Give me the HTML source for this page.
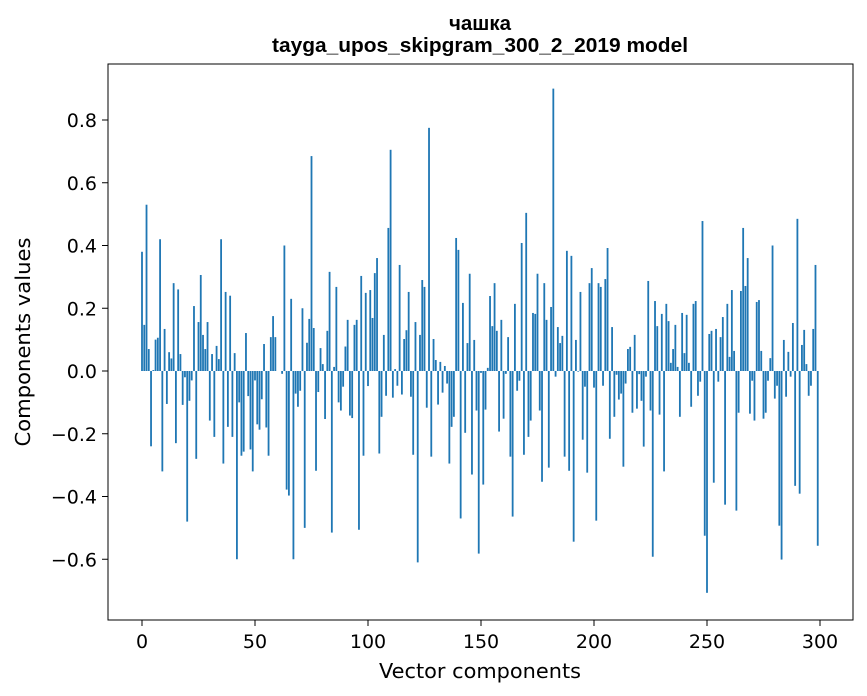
<!DOCTYPE html>
<html><head><meta charset="utf-8"><style>
body{margin:0;background:#fff;}
svg{display:block;font-family:"DejaVu Sans","Liberation Sans",sans-serif;}
.ttl{font-family:"Liberation Sans",sans-serif;font-weight:bold;}
</style></head><body>
<svg id="chart" width="867" height="696">
<text class="ttl" x="480" y="30" text-anchor="middle" font-size="20" textLength="62" lengthAdjust="spacingAndGlyphs">чашка</text>
<text class="ttl" x="480" y="52" text-anchor="middle" font-size="20" textLength="416" lengthAdjust="spacingAndGlyphs">tayga_upos_skipgram_300_2_2019 model</text>
<g id="bars"></g>
<rect x="108" y="64" width="745" height="556" fill="none" stroke="#000" stroke-width="1"/>
<g id="xt"></g>
<g id="yt"></g>
<text x="480" y="678" text-anchor="middle" font-size="20" textLength="202" lengthAdjust="spacingAndGlyphs">Vector components</text>
<text transform="translate(30,342) rotate(-90)" text-anchor="middle" font-size="20" textLength="209" lengthAdjust="spacingAndGlyphs">Components values</text>
</svg>
<script>
const values = [0.38,0.147,0.53,0.07,-0.24,0.003,0.10,0.106,0.42,-0.32,0.134,-0.105,0.06,0.04,0.28,-0.23,0.26,0.054,-0.108,-0.02,-0.48,-0.095,-0.03,0.207,-0.28,0.156,0.306,0.115,0.07,0.156,-0.158,0.054,-0.21,0.08,0.038,0.42,-0.295,0.252,-0.178,0.24,-0.21,0.057,-0.6,-0.1,-0.27,-0.257,0.121,-0.08,-0.25,
-0.32,-0.03,-0.17,-0.187,-0.09,0.086,-0.18,-0.27,0.108,0.175,0.108,0,0,-0.009,0.40,-0.378,-0.397,0.23,-0.6,-0.072,-0.114,-0.063,0.2,-0.5,0.09,0.166,0.685,0.137,-0.318,-0.067,0.073,0.022,-0.153,0.128,0.316,-0.515,0.013,0.268,-0.1,-0.126,-0.05,0.078,0.163,-0.142,-0.15,0.147,0.163,-0.506,0.303,-0.27,0.249,
-0.048,0.258,0.169,0.312,0.36,-0.263,-0.146,0.115,-0.079,0.456,0.705,-0.085,0.006,-0.047,0.338,-0.075,0.102,0.13,0.252,-0.082,-0.267,0.156,-0.61,0.115,0.29,0.268,-0.117,0.775,-0.273,0.102,0.035,-0.107,0.029,-0.069,0.016,-0.04,-0.295,-0.178,-0.146,0.424,0.386,-0.47,0.217,-0.197,0.089,0.31,-0.33,0.099,-0.126,-0.582,-0.006,
-0.362,-0.123,0.01,0.239,0.143,0.28,0.128,-0.193,0.163,-0.152,-0.009,0.108,-0.273,-0.464,0.214,-0.063,-0.031,0.408,-0.267,0.504,-0.21,-0.158,0.185,0.182,0.31,-0.126,-0.353,0.28,0.163,-0.308,0.204,0.9,-0.018,0.14,0.089,0.112,-0.273,0.383,-0.318,0.367,-0.544,0.099,-0.002,0.252,-0.219,-0.05,-0.324,0.28,0.328,-0.053,-0.477,
0.28,0.268,-0.047,0.293,0.392,-0.216,0.14,-0.146,-0.012,-0.091,-0.072,-0.305,-0.04,0.07,0.077,-0.133,0.115,-0.12,-0.01,-0.095,-0.241,-0.018,0.287,-0.126,-0.592,0.223,0.143,-0.139,0.182,-0.32,0.214,0.159,0.026,0.07,0.147,0.013,-0.146,0.185,0.057,0.179,0.026,-0.114,0.214,0.223,-0.079,-0.034,0.478,-0.525,-0.707,0.118,0.128,
-0.356,0.134,-0.034,0.108,0.172,-0.426,0.214,0.045,0.258,0.064,-0.445,-0.133,0.255,0.456,0.271,0.36,-0.136,-0.031,-0.158,0.22,0.226,0.064,-0.152,-0.133,-0.031,0.041,0.4,-0.088,-0.047,-0.493,-0.601,0.099,-0.082,0.061,-0.018,0.153,-0.366,0.485,-0.391,0.083,0.131,0.022,-0.079,-0.047,0.134,0.338,-0.557];
const xTicks = [0,50,100,150,200,250,300];
const yTicks = [-0.6,-0.4,-0.2,0.0,0.2,0.4,0.6,0.8];
const yTickLabels = ["\u22120.6","\u22120.4","\u22120.2","0.0","0.2","0.4","0.6","0.8"];
const NS="http://www.w3.org/2000/svg";
function xs(v){return 142+v*(678/300);}
function ys(v){return 371-v*313.75;}
const bw=0.8*678/300;
const bars=document.getElementById('bars');
values.forEach((v,i)=>{
  const r=document.createElementNS(NS,'rect');
  const y0=ys(0), y1=ys(v);
  r.setAttribute('x',xs(i)-bw/2);
  r.setAttribute('width',bw);
  r.setAttribute('y',Math.min(y0,y1));
  r.setAttribute('height',Math.abs(y1-y0));
  r.setAttribute('fill','#1f77b4');
  
  
  bars.appendChild(r);
});
const xt=document.getElementById('xt');
xTicks.forEach(t=>{
  const l=document.createElementNS(NS,'line');
  l.setAttribute('x1',xs(t));l.setAttribute('x2',xs(t));l.setAttribute('y1',620);l.setAttribute('y2',626);l.setAttribute('stroke','#000');
  
  
  xt.appendChild(l);
  const tx=document.createElementNS(NS,'text');
  tx.setAttribute('x',xs(t));tx.setAttribute('y',648);tx.setAttribute('text-anchor','middle');tx.setAttribute('font-size','19');
  tx.textContent=t;
  
  
  xt.appendChild(tx);
});
const yt=document.getElementById('yt');
yTicks.forEach((t,k)=>{
  const l=document.createElementNS(NS,'line');
  l.setAttribute('x1',102);l.setAttribute('x2',108);l.setAttribute('y1',ys(t));l.setAttribute('y2',ys(t));l.setAttribute('stroke','#000');
  
  
  yt.appendChild(l);
  const tx=document.createElementNS(NS,'text');
  tx.setAttribute('x',97);tx.setAttribute('y',ys(t)+7);tx.setAttribute('text-anchor','end');tx.setAttribute('font-size','19');
  tx.textContent=yTickLabels[k];
  
  
  yt.appendChild(tx);
});
</script>
</body></html>
